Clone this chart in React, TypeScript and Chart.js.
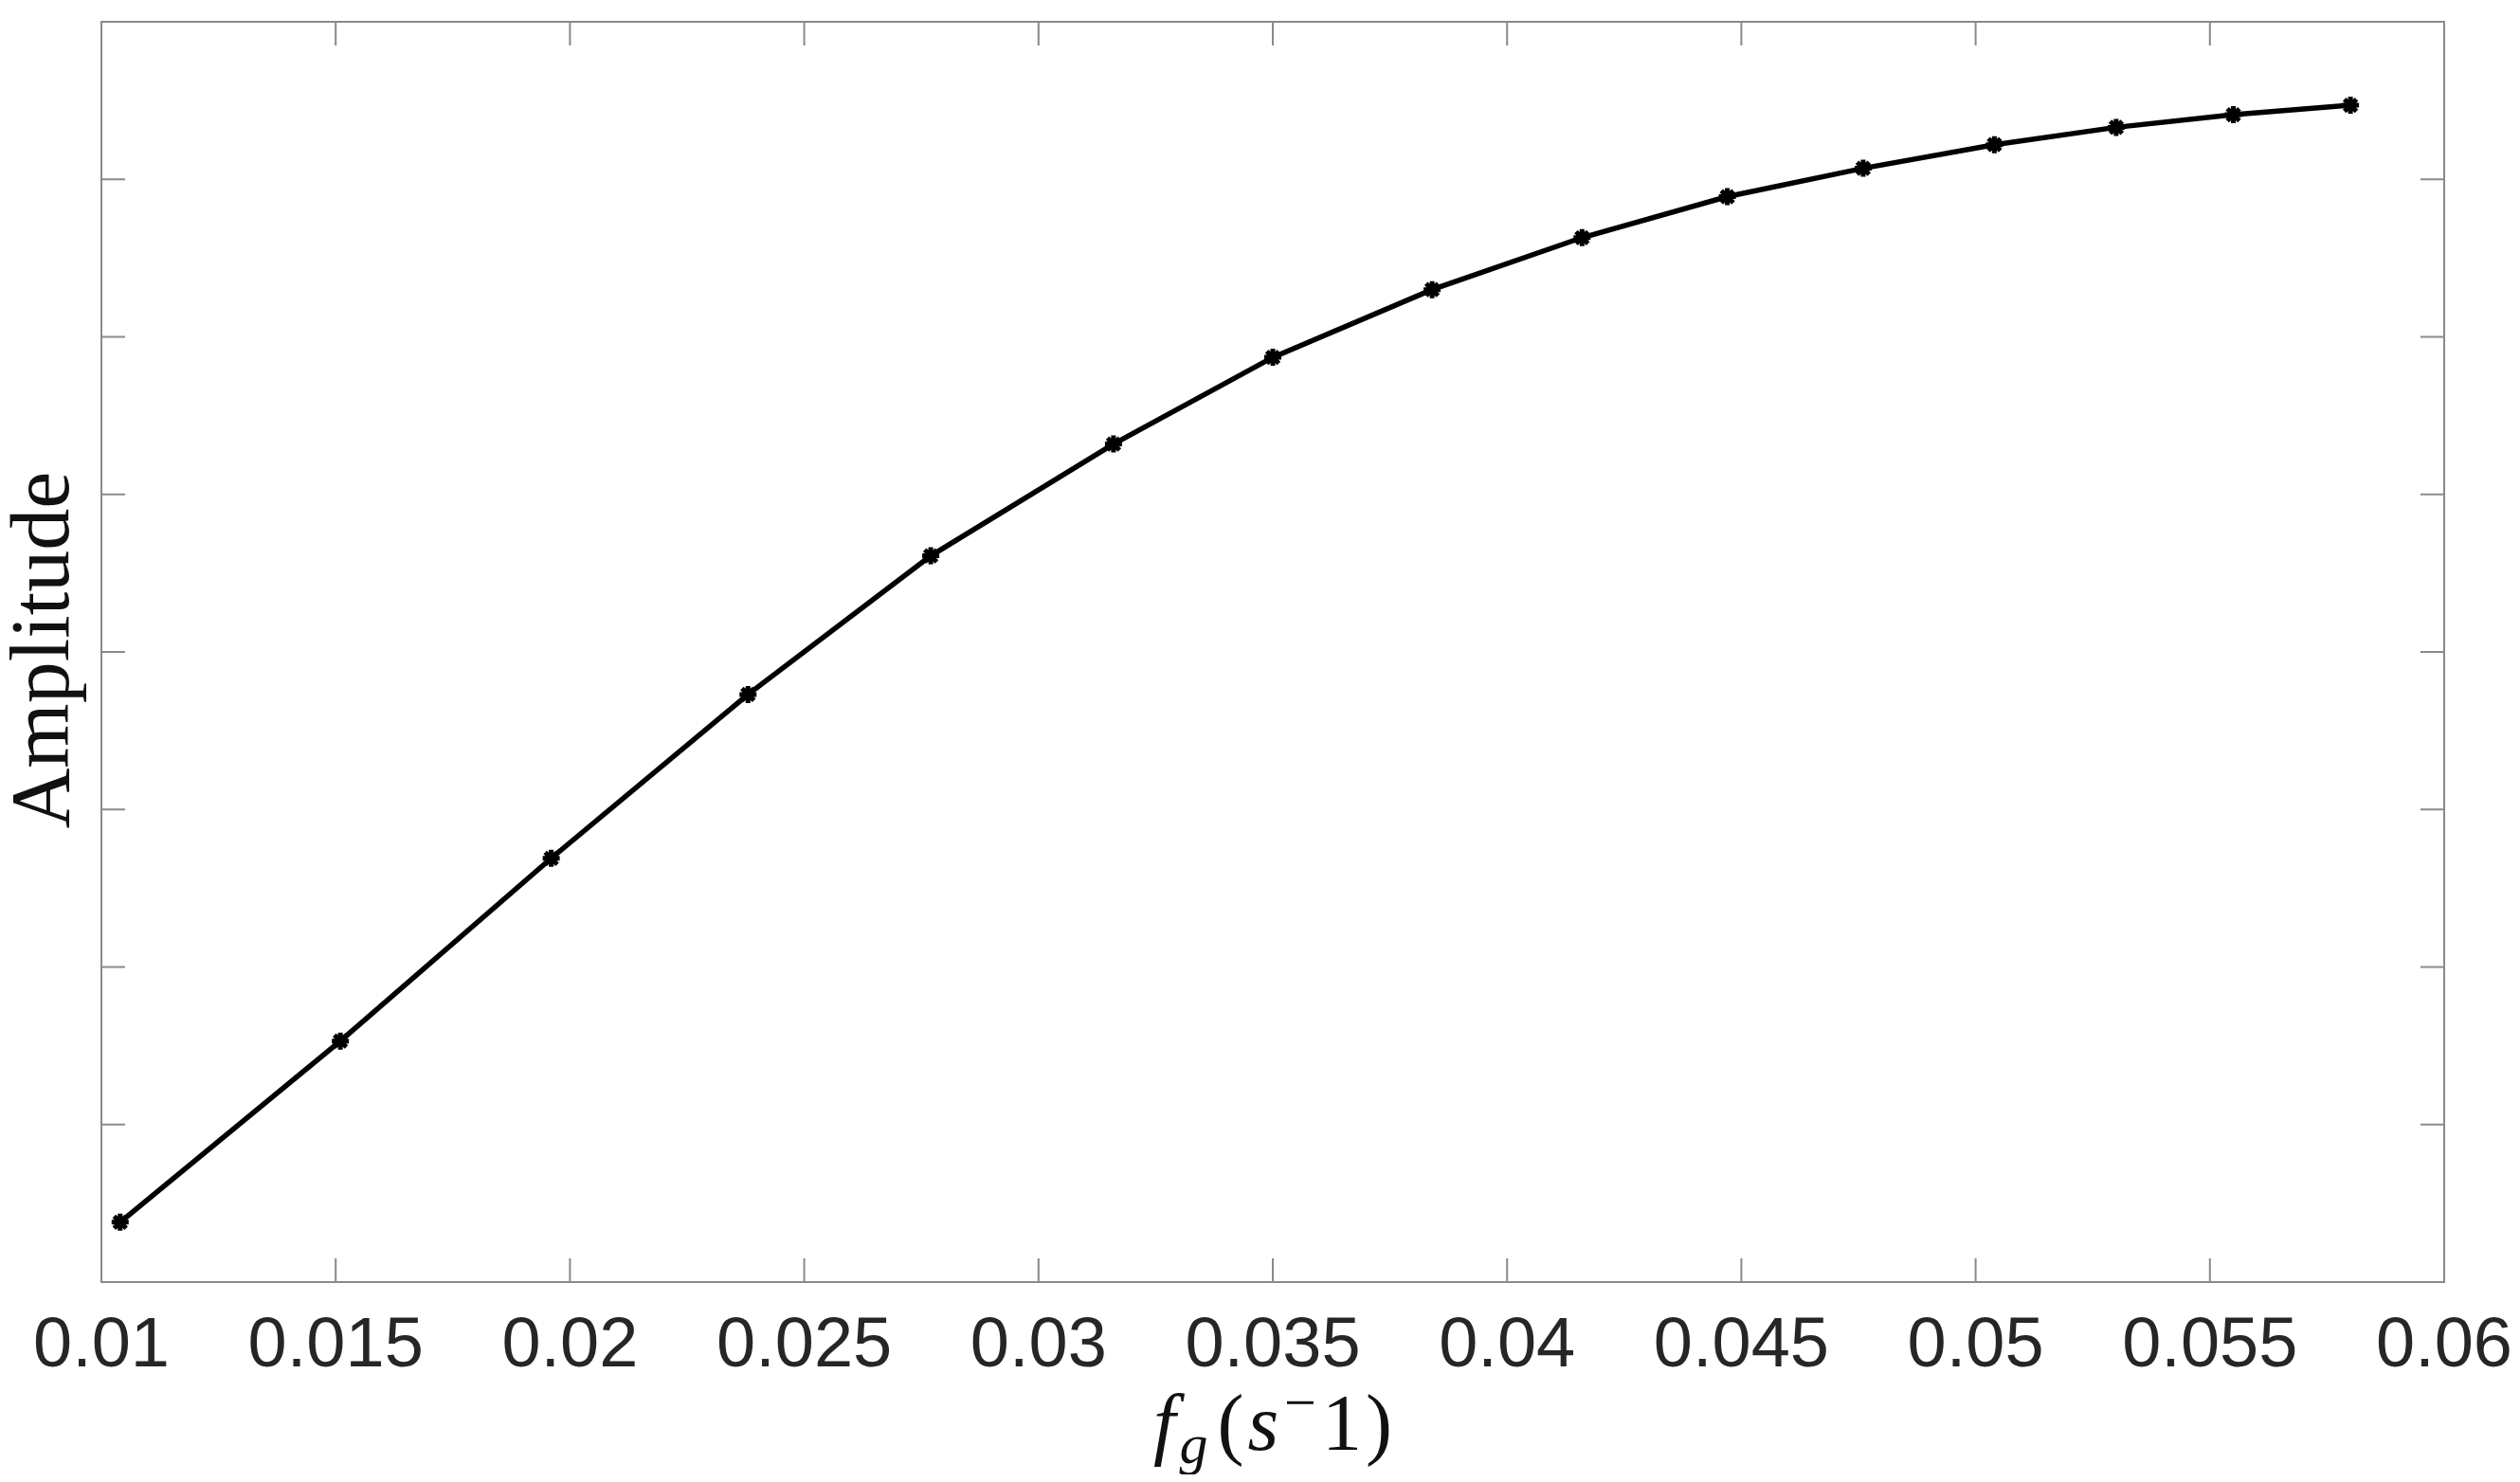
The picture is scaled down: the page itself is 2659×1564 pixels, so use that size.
import React, { useEffect, useRef } from "react";
import { Chart, registerables } from "chart.js";

Chart.register(...registerables);

// Data
const freqValues = [0.0104, 0.0151, 0.0196, 0.0238, 0.0277, 0.0316, 0.035, 0.0384, 0.0416, 0.0447, 0.0476, 0.0504, 0.053, 0.0555, 0.058];
const amplitudeValues = [0.38, 1.53, 2.69, 3.73, 4.61, 5.32, 5.87, 6.3, 6.63, 6.89, 7.07, 7.22, 7.33, 7.41, 7.47];
const xTickMin = 0.01;
const xTickMax = 0.06;
const xTickStep = 0.005;
const yMin = 0;
const yMax = 8;
const yTickStep = 1;
const yTitle = "Amplitude";

const W = 2643;
const H = 1548;
const FRAME = "#8a8a8a";
const SERIF = "'Liberation Serif', 'DejaVu Serif', serif";

const framePlugin = {
  id: "frameTicks",
  beforeDatasetsDraw(chart: any) {
    const { ctx, chartArea: a, scales } = chart;
    const tl = 25;
    ctx.save();
    ctx.strokeStyle = FRAME;
    ctx.lineWidth = 2;
    ctx.beginPath();
    ctx.rect(a.left, a.top, a.right - a.left, a.bottom - a.top);
    ctx.stroke();
    ctx.beginPath();
    for (const t of scales.x.ticks) {
      const px = scales.x.getPixelForValue(t.value);
      ctx.moveTo(px, a.bottom);
      ctx.lineTo(px, a.bottom - tl);
      ctx.moveTo(px, a.top);
      ctx.lineTo(px, a.top + tl);
    }
    for (const t of scales.y.ticks) {
      const py = scales.y.getPixelForValue(t.value);
      ctx.moveTo(a.left, py);
      ctx.lineTo(a.left + tl, py);
      ctx.moveTo(a.right, py);
      ctx.lineTo(a.right - tl, py);
    }
    ctx.stroke();
    ctx.restore();
  },
  afterDraw(chart: any) {
    const { ctx, chartArea: a } = chart;
    ctx.save();
    ctx.fillStyle = "#111111";
    // Y title (rotated)
    ctx.translate(64, (a.top + a.bottom) / 2 - 2);
    ctx.rotate(-Math.PI / 2);
    ctx.font = `88px ${SERIF}`;
    ctx.textAlign = "center";
    ctx.textBaseline = "alphabetic";
    ctx.fillText(yTitle, 0, 0);
    ctx.restore();

    // X title: f_g(s^{-}1)
    const segs = [
      { t: "f", it: true, size: 84, dy: 0, gap: 4 },
      { t: "g", it: true, size: 60, dy: 14, gap: 10 },
      { t: "(", it: false, size: 84, dy: 0, gap: 4 },
      { t: "s", it: true, size: 84, dy: 0, gap: 6 },
      { t: "\u2212", it: false, size: 60, dy: -30, gap: 6 },
      { t: "1", it: false, size: 84, dy: 0, gap: 4 },
      { t: ")", it: false, size: 84, dy: 0, gap: 0 },
    ];
    ctx.save();
    ctx.fillStyle = "#111111";
    ctx.textBaseline = "alphabetic";
    ctx.textAlign = "left";
    let total = 0;
    const widths: number[] = [];
    for (const s of segs) {
      ctx.font = `${s.it ? "italic " : ""}${s.size}px ${SERIF}`;
      const w = ctx.measureText(s.t).width + s.gap;
      widths.push(w);
      total += w;
    }
    let x = (a.left + a.right) / 2 - total / 2;
    const base = 1522;
    segs.forEach((s, i) => {
      ctx.font = `${s.it ? "italic " : ""}${s.size}px ${SERIF}`;
      ctx.fillText(s.t, x, base + s.dy);
      x += widths[i];
    });
    ctx.restore();
  },
};

function App() {
  const ref = useRef<HTMLCanvasElement | null>(null);
  useEffect(() => {
    if (!ref.current) return;
    const data = freqValues.map((f, i) => ({ x: f, y: amplitudeValues[i] }));
    const chart = new Chart(ref.current, {
      type: "line",
      data: {
        datasets: [
          {
            data,
            borderColor: "#000000",
            backgroundColor: "#000000",
            borderWidth: 5.5,
            pointStyle: "star",
            pointRadius: 9,
            pointBorderWidth: 5,
            pointBorderColor: "#000000",
            pointBackgroundColor: "#000000",
            tension: 0,
            fill: false,
          },
        ],
      },
      options: {
        animation: false,
        responsive: false,
        maintainAspectRatio: false,
        layout: { padding: { top: 15, right: 72, left: 0, bottom: 0 } },
        plugins: { legend: { display: false }, tooltip: { enabled: false }, title: { display: false } },
        scales: {
          x: {
            type: "linear",
            min: xTickMin,
            max: xTickMax,
            grid: { display: false, drawTicks: false },
            border: { display: false },
            ticks: {
              stepSize: xTickStep,
              maxRotation: 0,
              autoSkip: false,
              padding: 24,
              color: "#262626",
              font: { family: "'Liberation Sans', Arial, sans-serif", size: 74 },
              callback: (v: any) => String(parseFloat(Number(v).toFixed(4))),
            },
            afterFit: (s: any) => {
              s.height = 203;
              s.paddingLeft = 0;
              s.paddingRight = 0;
            },
          },
          y: {
            type: "linear",
            min: yMin,
            max: yMax,
            grid: { display: false, drawTicks: false },
            border: { display: false },
            ticks: { stepSize: yTickStep, display: false },
            afterFit: (s: any) => {
              s.width = 99;
              s.paddingTop = 0;
              s.paddingBottom = 0;
            },
          },
        },
      },
      plugins: [framePlugin],
    });
    return () => chart.destroy();
  }, []);
  return (
    <div style={{ width: W, height: H }}>
      <canvas ref={ref} width={W} height={H} style={{ width: W, height: H, display: "block" }} />
    </div>
  );
}

export default App;
